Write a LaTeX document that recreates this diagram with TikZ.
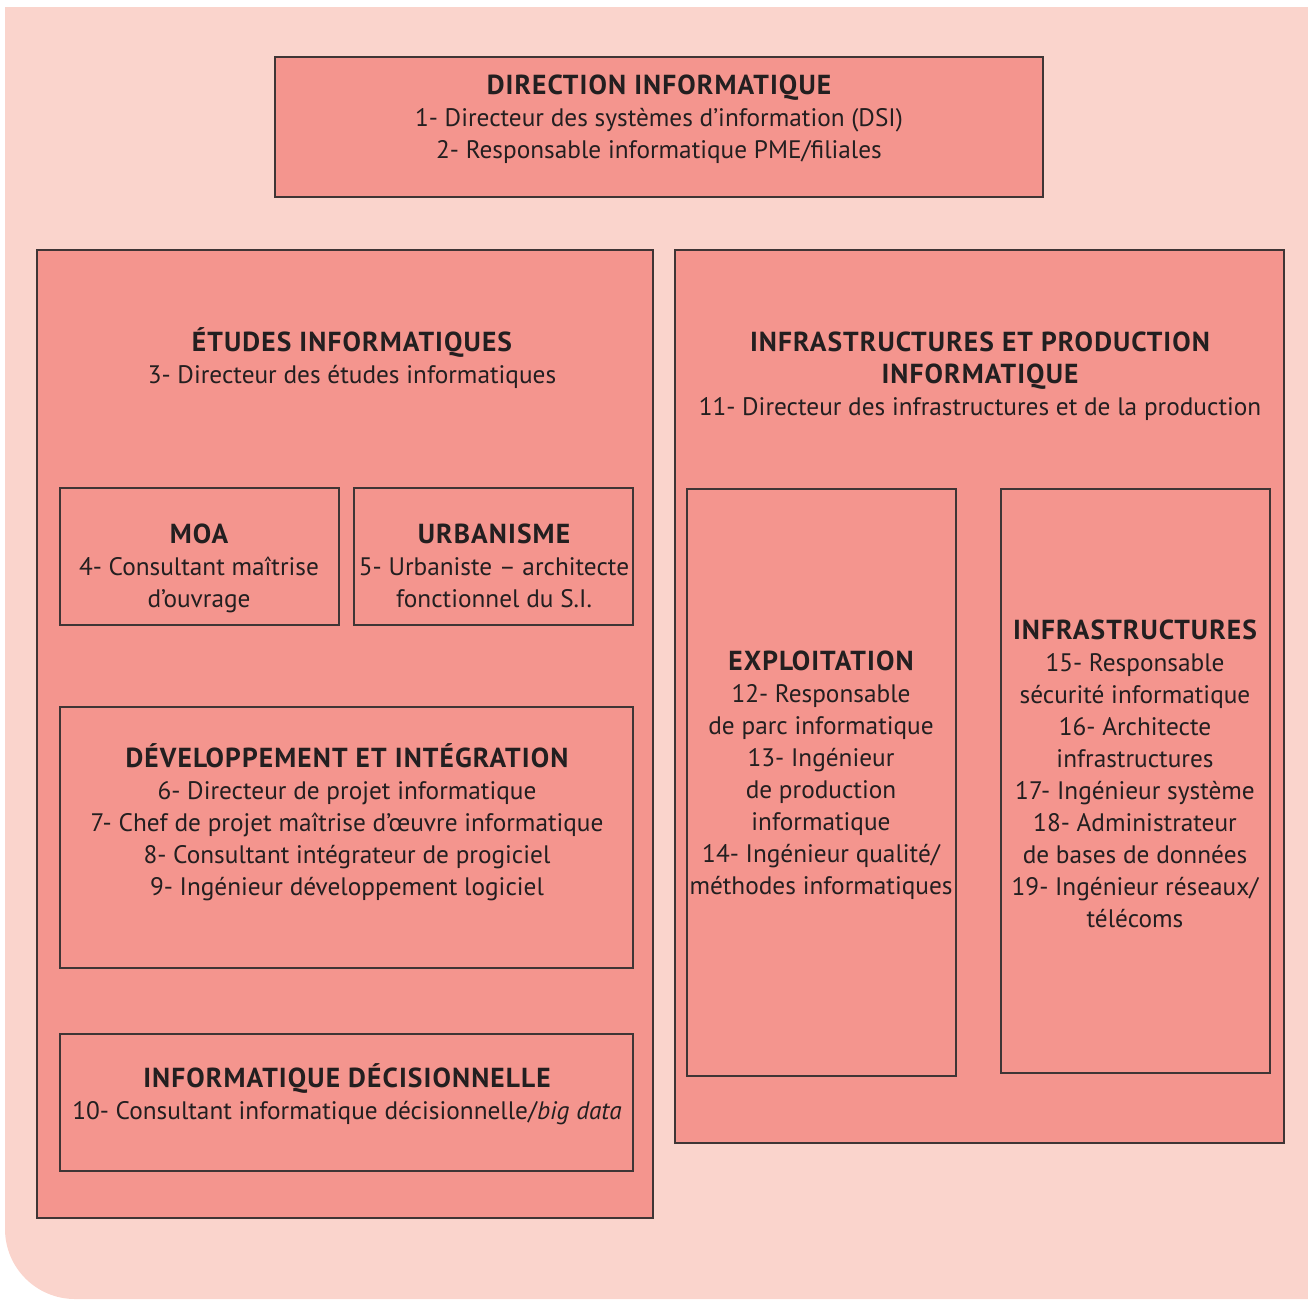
\documentclass[tikz,border=0pt]{standalone}
\usepackage{fontspec}
\setmainfont{PT Sans}
\newfontfamily\tfont[LetterSpace=4]{PT Sans}
\definecolor{bgc}{HTML}{FAD4CC}
\definecolor{boxc}{HTML}{F4958E}
\definecolor{bordc}{HTML}{3F3535}
\definecolor{txtc}{HTML}{231F20}
\newcommand{\ttl}[1]{{\tfont\bfseries\fontsize{27.5}{32}\selectfont #1}}
\begin{document}
\begin{tikzpicture}[x=1pt,y=-1pt,
  box/.style={draw=bordc, fill=boxc, line width=1.3pt},
  txt/.style={align=center, text=txtc, inner sep=0pt, font=\fontsize{25.3}{32}\selectfont}]
\useasboundingbox (0,0) rectangle (1308,1299);
\fill[bgc] (5,7) -- (1308,7) -- (1308,1299) -- (75,1299) .. controls (36.3,1299) and (5,1267.7) .. (5,1229) -- cycle;
% boxes
\draw[box] (275,57) rectangle (1043,197);
\draw[box] (37,250) rectangle (653,1218);
\draw[box] (675,250) rectangle (1284,1143);
\draw[box] (60,488) rectangle (339,625);
\draw[box] (354,488) rectangle (633,625);
\draw[box] (60,707) rectangle (633,968);
\draw[box] (60,1034) rectangle (633,1171);
\draw[box] (687,489) rectangle (956,1076);
\draw[box] (1001,489) rectangle (1270,1073);
% texts
\node[txt] (dir) at (659,119) {\ttl{DIRECTION INFORMATIQUE}\\1- Directeur des systèmes d’information (DSI)\\2- Responsable informatique PME/filiales};
\node[txt] (etu) at (352,358.5) {\ttl{ÉTUDES INFORMATIQUES}\\3- Directeur des études informatiques};
\node[txt] (inf) at (980,376) {\ttl{INFRASTRUCTURES ET PRODUCTION}\\\ttl{INFORMATIQUE}\\11- Directeur des infrastructures et de la production};
\node[txt] (moa) at (199,568) {\ttl{MOA}\\4- Consultant maîtrise\\d’ouvrage};
\node[txt] (urb) at (494,565.5) {\ttl{URBANISME}\\5- Urbaniste – architecte\\fonctionnel du S.I.};
\node[txt] (dev) at (347,822.5) {\ttl{DÉVELOPPEMENT ET INTÉGRATION}\\6- Directeur de projet informatique\\7- Chef de projet maîtrise d’œuvre informatique\\8- Consultant intégrateur de progiciel\\9- Ingénieur développement logiciel};
\node[txt] (dec) at (347,1094.5) {\ttl{INFORMATIQUE DÉCISIONNELLE}\\10- Consultant informatique décisionnelle/\textit{big data}};
\node[txt] (exp) at (821,775) {\ttl{EXPLOITATION}\\12- Responsable\\de parc informatique\\13- Ingénieur\\de production\\informatique\\14- Ingénieur qualité/\\méthodes informatiques};
\node[txt] (ins) at (1135,774) {\ttl{INFRASTRUCTURES}\\15- Responsable\\sécurité informatique\\16- Architecte\\infrastructures\\17- Ingénieur système\\18- Administrateur\\de bases de données\\19- Ingénieur réseaux/\\télécoms};
\end{tikzpicture}
\end{document}
